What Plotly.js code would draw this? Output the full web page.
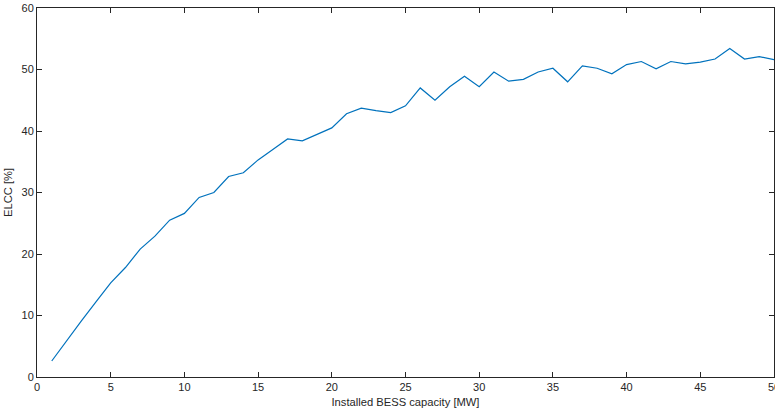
<!DOCTYPE html>
<html>
<head>
<meta charset="utf-8">
<script src="https://cdn.plot.ly/plotly-3.0.1.min.js"></script>
<style>html,body{margin:0;padding:0;background:#fff;}#chart{width:775px;height:411px;}</style>
</head>
<body>
<div id="chart"></div>
<script>
const capacityMW = [1,2,3,4,5,6,7,8,9,10,11,12,13,14,15,16,17,18,19,20,21,22,23,24,25,26,27,28,29,30,31,32,33,34,35,36,37,38,39,40,41,42,43,44,45,46,47,48,49,50];
const elccPct = [2.6,5.9,9.1,12.2,15.3,17.8,20.8,22.9,25.5,26.6,29.2,30.0,32.6,33.2,35.3,37.0,38.7,38.4,39.4,40.5,42.8,43.7,43.3,43.0,44.1,47.0,45.0,47.2,48.9,47.2,49.6,48.1,48.4,49.6,50.2,48.0,50.6,50.2,49.3,50.8,51.3,50.1,51.3,50.9,51.2,51.7,53.4,51.7,52.1,51.6];
const xTicks = [0,5,10,15,20,25,30,35,40,45,50];
const yTicks = [0,10,20,30,40,50,60];

const axisCol = '#262626';
const font = {family: '"Liberation Sans", Arial, Helvetica, sans-serif', size: 11, color: axisCol};

Plotly.newPlot('chart', [{
  x: capacityMW, y: elccPct, type: 'scatter', mode: 'lines',
  line: {color: '#0072BD', width: 1.2}
}], {
  width: 775, height: 411,
  margin: {l: 37, r: 1, t: 8, b: 34},
  paper_bgcolor: '#fff', plot_bgcolor: '#fff',
  font: font,
  showlegend: false,
  xaxis: {
    range: [0, 50], tickvals: xTicks, ticktext: xTicks.map(String),
    ticks: 'inside', ticklen: 5, tickcolor: axisCol, tickwidth: 1,
    ticklabeloverflow: 'allow',
    showline: true, linecolor: axisCol, linewidth: 1, mirror: 'ticks',
    showgrid: false, zeroline: false,
    title: {text: 'Installed BESS capacity [MW]', font: {size: 11.2, color: axisCol}, standoff: 5}
  },
  yaxis: {
    range: [0, 60], tickvals: yTicks, ticktext: yTicks.map(String),
    ticks: 'inside', ticklen: 5, tickcolor: axisCol, tickwidth: 1,
    showline: true, linecolor: axisCol, linewidth: 1, mirror: 'ticks',
    showgrid: false, zeroline: false,
    title: {text: 'ELCC [%]', font: {size: 11.2, color: axisCol}, standoff: 6}
  }
}, {displayModeBar: false, staticPlot: true});
</script>
</body>
</html>
